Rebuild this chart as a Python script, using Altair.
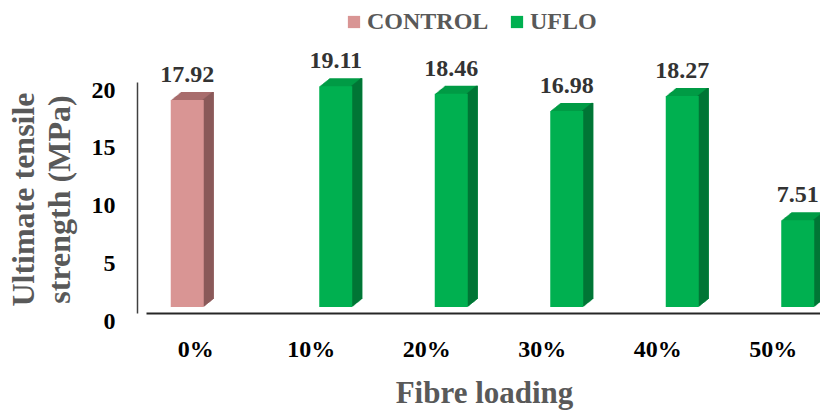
import altair as alt
import pandas as pd

# Ultimate tensile strength by fibre loading
loadings = ["0%", "10%", "20%", "30%", "40%", "50%"]
series = ["CONTROL", "UFLO"]
control_values = [17.92, None, None, None, None, None]
uflo_values = [None, 19.11, 18.46, 16.98, 18.27, 7.51]
y_ticks = [0, 5, 10, 15, 20]

front_colors = ["#D99594", "#00B050"]
top_colors = ["#A86C6C", "#009B45"]
side_colors = ["#8A5A5A", "#007636"]

rows = []
for i, load in enumerate(loadings):
    for name, vals in zip(series, [control_values, uflo_values]):
        if vals[i] is not None:
            rows.append({"loading": load, "series": name, "value": vals[i]})
df = pd.DataFrame(rows)

SERIF = "Liberation Serif"
BAR_W = 33              # column width in px
DEPTH_STEPS = 10        # pseudo-3D extrusion, 1 px right per step
RISE_PER_STEP = 0.8     # and 0.8 px up per step
LIFT = 6                # columns stand slightly above the axis floor

x_enc = alt.X(
    "loading:N",
    sort=loadings,
    scale=alt.Scale(domain=loadings, range=[9, 702], paddingInner=0, paddingOuter=0),
    axis=alt.Axis(
        title="Fibre loading",
        labelAngle=0,
        ticks=False,
        grid=False,
        domainColor="#262626",
        domainWidth=2,
        labelFont=SERIF,
        labelFontSize=24,
        labelFontWeight="bold",
        labelColor="#000000",
        labelPadding=24,
        labelOffset=-8,
        titleFont=SERIF,
        titleFontSize=31,
        titleFontWeight="bold",
        titleColor="#595959",
        titleX=347,
        titleY=89,
        titleAlign="center",
        titleBaseline="alphabetic",
    ),
)
y_enc = alt.Y(
    "value:Q",
    scale=alt.Scale(domain=[0, 20], nice=False),
    axis=alt.Axis(
        title=["Ultimate tensile", "strength (MPa)"],
        values=y_ticks,
        ticks=False,
        grid=False,
        domainColor="#404040",
        domainWidth=1.5,
        labelFont=SERIF,
        labelFontSize=24,
        labelFontWeight="bold",
        labelColor="#000000",
        labelPadding=22,
        labelOffset=8,
        titleFont=SERIF,
        titleFontSize=32,
        titleFontWeight="bold",
        titleColor="#595959",
        titleX=-129,
        titleY=117,
        titleAlign="center",
        titleBaseline="top",
        titleLineHeight=36,
    ),
)

legend = alt.Legend(
    title=None,
    orient="none",
    legendX=205,
    legendY=-72,
    direction="horizontal",
    symbolType="square",
    symbolSize=150,
    symbolStrokeWidth=0,
    labelFont=SERIF,
    labelFontSize=24,
    labelFontWeight="bold",
    labelColor="#595959",
    labelOffset=1,
    columnPadding=16,
    padding=0,
)


def shade(colors):
    return alt.Color(
        "series:N", scale=alt.Scale(domain=series, range=colors), legend=None
    )


base = alt.Chart(df)
# each series sits on its own side of the category slot
slot_shift = {"CONTROL": -BAR_W / 2, "UFLO": BAR_W / 2}

top_layers, side_layers, front_layers = [], [], []
for idx, name in enumerate(series):
    sub = base.transform_filter(alt.datum.series == name)
    dx = slot_shift[name]
    for k in range(1, DEPTH_STEPS + 1):
        rise = LIFT + RISE_PER_STEP * k
        # top face: whole column extruded back
        top_layers.append(
            sub.mark_bar(size=BAR_W, xOffset=dx + k, yOffset=-rise).encode(
                x=x_enc, y=y_enc, color=shade(top_colors)
            )
        )
        # side face: right edge extruded back
        side_layers.append(
            sub.mark_bar(
                size=2, xOffset=dx + BAR_W / 2 - 1 + k, yOffset=-rise
            ).encode(x=x_enc, y=y_enc, color=shade(side_colors))
        )
    front = sub.mark_bar(size=BAR_W, xOffset=dx, yOffset=-LIFT).encode(
        x=x_enc,
        y=y_enc,
        color=alt.Color(
            "series:N",
            scale=alt.Scale(domain=series, range=front_colors),
            legend=legend if idx == 0 else None,
        ),
    )
    text = sub.mark_text(
        font=SERIF,
        fontSize=24,
        fontWeight="bold",
        color="#333333",
        baseline="alphabetic",
        dx=dx,
        dy=-24,
    ).encode(
        x=x_enc,
        y=y_enc,
        text=alt.Text("value:Q", format=".2f"),
    )
    front_layers += [front, text]

chart = (
    alt.layer(*top_layers, *side_layers, *front_layers)
    .resolve_scale(color="independent")
    .properties(
        width=683,
        height=231,
        autosize=alt.AutoSizeParams(type="none"),
        padding={"left": 137, "right": 0, "top": 82, "bottom": 97},
        background="white",
    )
    .configure_view(stroke=None)
)

chart.save("out.html", embed_options={"renderer": "svg", "actions": False})
